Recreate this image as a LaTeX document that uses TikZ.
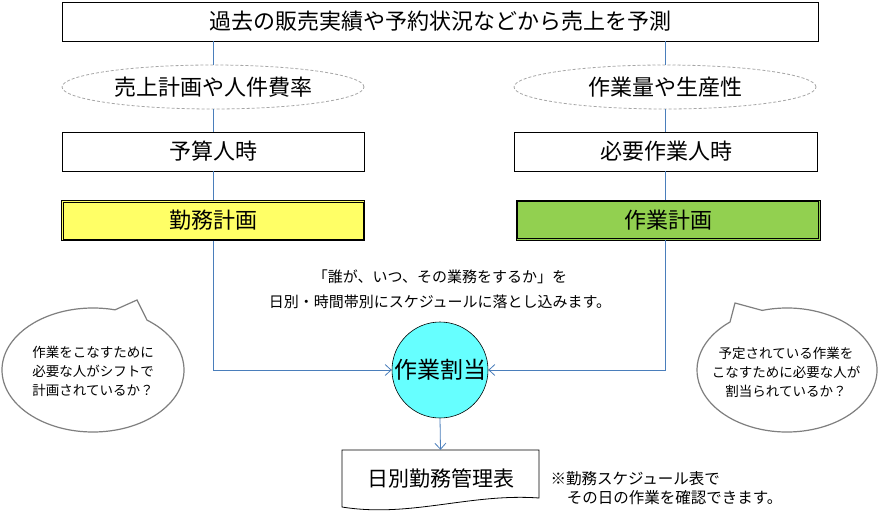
\documentclass[tikz,border=0pt]{standalone}
\usepackage{fontspec}
\setmainfont{Noto Sans CJK JP}
\usetikzlibrary{arrows.meta,shapes.geometric}
\definecolor{linkblue}{HTML}{4A7EBB}
\definecolor{planyellow}{HTML}{FFFF66}
\definecolor{plangreen}{HTML}{92D050}
\definecolor{assigncyan}{HTML}{66FFFF}
\definecolor{bubgray}{HTML}{7F7F7F}
\definecolor{dashgray}{HTML}{A6A6A6}
\begin{document}
\begin{tikzpicture}[x=1pt,y=-1pt,
  lbl/.style={font=\fontsize{22}{26}\selectfont},
  box/.style={lbl,draw=black,line width=0.8pt,fill=white,inner sep=0pt,minimum height=39pt},
  dbox/.style={lbl,draw=black,line width=0.7pt,inner sep=0pt,minimum width=303pt,minimum height=40pt},
  inner/.style={draw=black,line width=0.6pt},
  oval/.style={lbl,ellipse,draw=dashgray,line width=0.8pt,dash pattern=on 3pt off 2pt,fill=white,inner sep=0pt,minimum width=302pt,minimum height=44pt},
  conn/.style={draw=linkblue,line width=0.8pt},
  arr/.style={conn,-{Straight Barb[length=6pt,width=11pt]}},
  bubble/.style={draw=bubgray,line width=1.2pt,fill=white},
  small/.style={font=\fontsize{13.5}{19}\selectfont,align=center},
  mid/.style={font=\fontsize{15}{25}\selectfont,align=center}
]
\useasboundingbox[fill=white] (0,0) rectangle (880,524);

% nodes
\node[box,minimum width=756pt] (top) at (440,21.5) {過去の販売実績や予約状況などから売上を予測};
\node[oval] (ell1) at (213,87) {売上計画や人件費率};
\node[oval] (ell2) at (665,87) {作業量や生産性};
\node[box,minimum width=302pt] (yosan) at (213,151.5) {予算人時};
\node[box,minimum width=303pt] (hitsuyo) at (666,151.5) {必要作業人時};
\node[dbox,fill=planyellow] (kinmu) at (213,220.5) {勤務計画};
\draw[inner] ([shift={(1.7pt,-1.7pt)}]kinmu.north west) rectangle ([shift={(-1.7pt,1.7pt)}]kinmu.south east);
\node[dbox,fill=plangreen,minimum width=304pt] (sagyo) at (668,220) {作業計画};
\draw[inner] ([shift={(1.7pt,-1.7pt)}]sagyo.north west) rectangle ([shift={(-1.7pt,1.7pt)}]sagyo.south east);
\node[circle,draw=black,line width=0.6pt,fill=assigncyan,minimum size=96pt,inner sep=0pt,font=\fontsize{23}{26}\selectfont] (circ) at (440,370) {作業割当};
\node[mid] (midtxt) at (440,289.5) {「誰が、いつ、その業務をするか」を\\日別・時間帯別にスケジュールに落とし込みます。};

% document shape
\draw[draw=black,line width=0.8pt,fill=white] (342,450) -- (539,450) -- (539,498)
  .. controls (470,493) and (410,518) .. (342,507) -- cycle;
\node[draw=none,minimum width=197pt,minimum height=57pt,inner sep=0pt,font=\fontsize{21}{24}\selectfont] (doc) at (440.5,478.5) {日別勤務管理表};
\node[anchor=west,align=left,font=\fontsize{15.5}{19.5}\selectfont] (note) at (547,488) {※勤務スケジュール表で\\\hspace{1.05em}その日の作業を確認できます。};

% connectors
\draw[conn] (top.south -| ell1.north) -- (ell1);
\draw[conn] (ell1) -- (yosan);
\draw[conn] (yosan) -- (kinmu);
\draw[arr] (kinmu.south) |- (circ.west);
\draw[conn] (top.south -| ell2.north) -- (ell2);
\draw[conn] (ell2) -- (ell2 |- hitsuyo.north);
\draw[conn] (ell2 |- hitsuyo.south) -- (ell2 |- sagyo.north);
\draw[arr] (ell2 |- sagyo.south) |- (circ.east);
\draw[arr] (circ.south) -- (doc.north);

% speech bubbles
\draw[bubble] (137,300) -- ([shift={(93,370)}] -53.6:91 and 62)
  arc[start angle=-53.6,end angle=284,x radius=91,y radius=62] -- cycle;
\node[small] (bub1) at (93,371) {作業をこなすために\\必要な人がシフトで\\計画されているか？};
\draw[bubble] (735,303) -- ([shift={(787,370)}] -106:90 and 62)
  arc[start angle=-106,end angle=230.7,x radius=90,y radius=62] -- cycle;
\node[small] (bub2) at (786,372) {予定されている作業を\\こなすために必要な人が\\割当られているか？};
\end{tikzpicture}
\end{document}
